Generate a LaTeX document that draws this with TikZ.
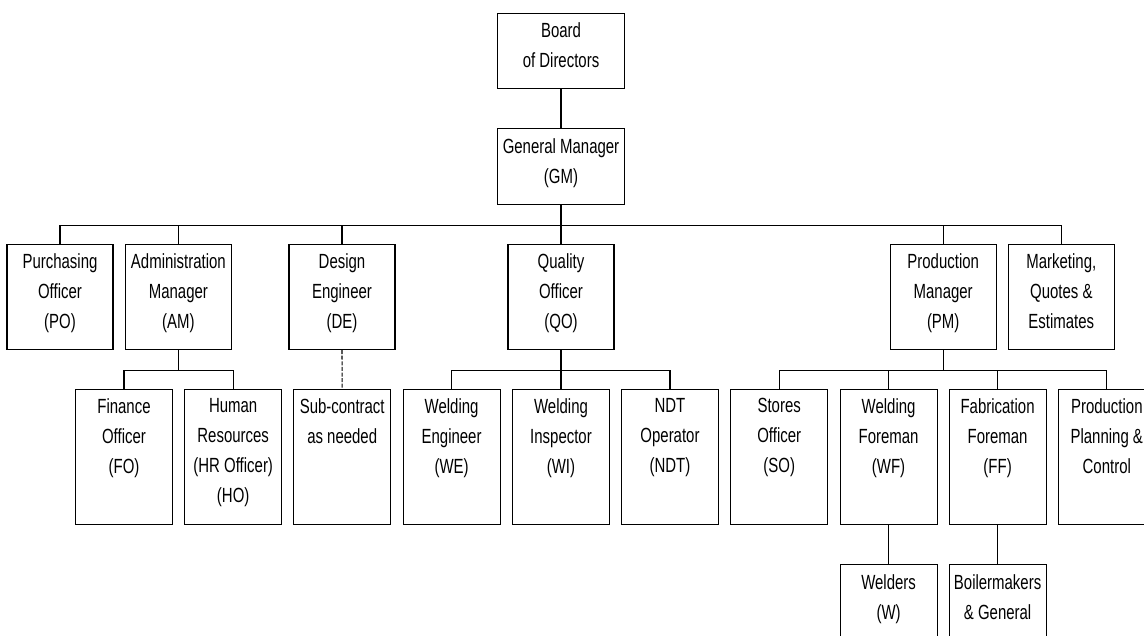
\documentclass[tikz,border=0pt]{standalone}
\usepackage{fontspec}
\setmainfont[FakeStretch=0.73]{Liberation Sans}
\begin{document}
\begin{tikzpicture}[x=1pt,y=-1pt,
  box/.style={draw, line width=1.1pt, anchor=north, inner sep=0pt, minimum width=#1},
  box/.default=106,
  rowA/.style={box=127, minimum height=75},
  rowB/.style={box=106, minimum height=105},
  rowC/.style={box=97, minimum height=135},
  rowD/.style={box=97, minimum height=110},
  txt/.style={anchor=north, align=center, inner sep=0pt, font=\fontsize{20.5}{30}\selectfont,
              execute at begin node=\strut},
  conn/.style={line width=1.1pt},
  dconn/.style={line width=1.1pt, dash pattern=on 4pt off 1.6pt}]
\useasboundingbox (0,0) rectangle (1144,635);
\clip (0,0) rectangle (1144,635);
% boxes
\node[rowA, minimum height=75] (bod) at (561,13) {};
\node[rowA, minimum height=76] (gm) at (561,128) {};
\node[rowB] (po)  at (60,244) {};
\node[rowB] (am)  at (178.4,244) {};
\node[rowB] (de)  at (342,244) {};
\node[rowB] (qo)  at (561,244) {};
\node[rowB] (pm)  at (943.2,244) {};
\node[rowB] (mqe) at (1061.3,244) {};
\node[rowC] (fo)  at (124,389) {};
\node[rowC] (ho)  at (233.2,389) {};
\node[rowC] (sub) at (342.2,389) {};
\node[rowC] (we)  at (451.6,389) {};
\node[rowC] (wi)  at (561,389) {};
\node[rowC] (ndt) at (670,389) {};
\node[rowC] (so)  at (779.2,389) {};
\node[rowC] (wf)  at (888.6,389) {};
\node[rowC] (ff)  at (997.6,389) {};
\node[rowC] (ppc) at (1106.8,389) {};
\node[rowD] (w)   at (888.6,564) {};
\node[rowD] (bm)  at (997.6,564) {};
% texts
\node[txt] (bodt) at ([yshift=-9pt]bod.north) {Board\\of Directors};
\node[txt] (gmt)  at ([yshift=-10pt]gm.north) {General Manager\\(GM)};
\node[txt] (pot)  at ([yshift=-9pt]po.north) {Purchasing\\Officer\\(PO)};
\node[txt] (amt)  at ([yshift=-9pt]am.north) {Administration\\Manager\\(AM)};
\node[txt] (det)  at ([yshift=-9pt]de.north) {Design\\Engineer\\(DE)};
\node[txt] (qot)  at ([yshift=-9pt]qo.north) {Quality\\Officer\\(QO)};
\node[txt] (pmt)  at ([yshift=-9pt]pm.north) {Production\\Manager\\(PM)};
\node[txt] (mqet) at ([yshift=-9pt]mqe.north) {Marketing,\\Quotes \&\\Estimates};
\node[txt] (fot)  at ([yshift=-9pt]fo.north) {Finance\\Officer\\(FO)};
\node[txt] (hot)  at ([yshift=-9pt]ho.north) {Human\\Resources\\(HR Officer)\\(HO)};
\node[txt] (subt) at ([yshift=-9pt]sub.north) {Sub-contract\\as needed};
\node[txt] (wet)  at ([yshift=-9pt]we.north) {Welding\\Engineer\\(WE)};
\node[txt] (wit)  at ([yshift=-9pt]wi.north) {Welding\\Inspector\\(WI)};
\node[txt] (ndtt) at ([yshift=-9pt]ndt.north) {NDT\\Operator\\(NDT)};
\node[txt] (sot)  at ([yshift=-9pt]so.north) {Stores\\Officer\\(SO)};
\node[txt] (wft)  at ([yshift=-9pt]wf.north) {Welding\\Foreman\\(WF)};
\node[txt] (fft)  at ([yshift=-9pt]ff.north) {Fabrication\\Foreman\\(FF)};
\node[txt] (ppct) at ([yshift=-9pt]ppc.north) {Production\\Planning \&\\Control};
\node[txt] (wt)   at ([yshift=-10pt]w.north) {Welders\\(W)};
\node[txt] (bmt)  at ([yshift=-10pt]bm.north) {Boilermakers\\\& General};
% connectors
\draw[conn] (bod.south) -- (gm.north);
\foreach \c in {po,am,de,qo,pm,mqe}
  \draw[conn] (gm.south) -- ++(0,20) -| (\c.north);
\foreach \c in {fo,ho}
  \draw[conn] (am.south) -- ++(0,20) -| (\c.north);
\draw[dconn] (de.south) -- (sub.north);
\foreach \c in {we,wi,ndt}
  \draw[conn] (qo.south) -- ++(0,20) -| (\c.north);
\foreach \c in {so,wf,ff,ppc}
  \draw[conn] (pm.south) -- ++(0,20) -| (\c.north);
\draw[conn] (wf.south) -- (w.north);
\draw[conn] (ff.south) -- (bm.north);
\end{tikzpicture}
\end{document}
